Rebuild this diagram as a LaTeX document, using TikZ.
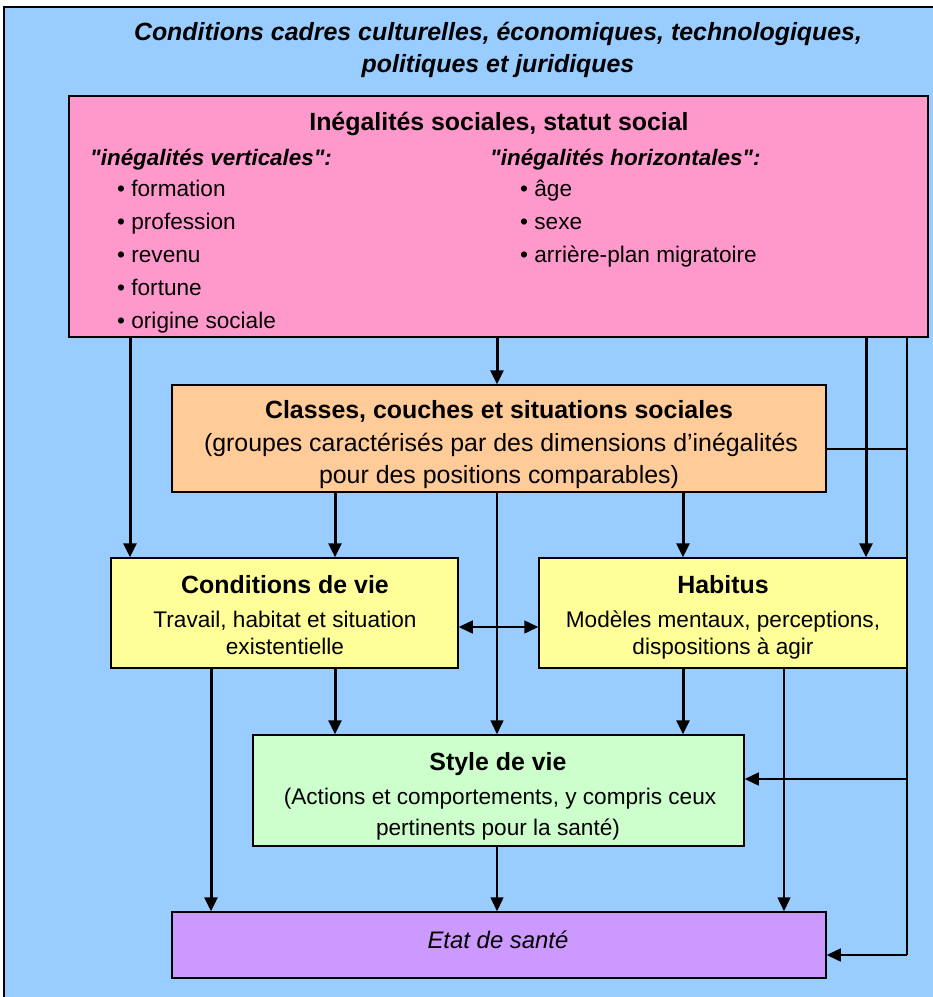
\documentclass[tikz,border=0pt]{standalone}
\usepackage{fontspec}
\setmainfont{Liberation Sans}
\newfontfamily\qfont{Liberation Sans}
\usetikzlibrary{arrows.meta}
\definecolor{bgblue}{HTML}{99CCFF}
\definecolor{boxpink}{HTML}{FF99CC}
\definecolor{boxorange}{HTML}{FFCC99}
\definecolor{boxyellow}{HTML}{FFFF99}
\definecolor{boxgreen}{HTML}{CCFFCC}
\definecolor{boxpurple}{HTML}{CC99FF}
\newcommand{\dq}{{\qfont\bfseries\itshape "}}
\tikzset{
  panel/.style={draw=black, line width=1.5bp, inner sep=0pt},
  txt/.style={inner sep=0pt, anchor=base, font=\fontsize{22.7}{26}\selectfont},
  btxt/.style={inner sep=0pt, anchor=base, font=\fontsize{25}{28}\selectfont\bfseries},
  itxt/.style={inner sep=0pt, anchor=base west, font=\fontsize{22.5}{26}\selectfont\bfseries\itshape},
  thk/.style={line width=3bp, -{Triangle[length=14bp,width=13bp]}},
  thn/.style={line width=1.5bp, -{Triangle[length=14bp,width=13bp]}},
  thnboth/.style={line width=1.5bp, {Triangle[length=14bp,width=13bp]}-{Triangle[length=14bp,width=13bp]}},
  plain/.style={line width=1.5bp}
}
\begin{document}
\begin{tikzpicture}[x=1bp,y=-1bp]
\useasboundingbox (0,0) rectangle (933,997);
\begin{scope}
\clip (0,0) rectangle (933,997);
\draw[fill=bgblue, line width=1.5bp] (4,7) rectangle (950,1010);
\end{scope}

% title
\node[btxt, font=\fontsize{25}{28}\selectfont\bfseries\itshape] (t1) at (498,40) {Conditions cadres culturelles, économiques, technologiques,};
\node[btxt, font=\fontsize{25}{28}\selectfont\bfseries\itshape] (t2) at (498,72) {politiques et juridiques};

% boxes
\node[panel, fill=boxpink, minimum width=859bp, minimum height=241bp] (ineg) at (498.5,216.5) {};
\node[panel, fill=boxorange, minimum width=654bp, minimum height=107bp] (cls) at (499,438.5) {};
\node[panel, fill=boxyellow, minimum width=347bp, minimum height=110bp] (cdv) at (284.5,613) {};
\node[panel, fill=boxyellow, minimum width=368bp, minimum height=110bp] (hab) at (723,613) {};
\node[panel, fill=boxgreen, minimum width=491bp, minimum height=111bp] (sty) at (498.5,790.5) {};
\node[panel, fill=boxpurple, minimum width=654bp, minimum height=66bp] (eta) at (499,945) {};

% pink texts
\node[btxt] (p0) at (499,130) {Inégalités sociales, statut social};
\node[itxt] (pv) at (90,165) {\dq inégalités verticales\dq:};
\node[txt, anchor=base west] (pv1) at (117,196) {• formation};
\node[txt, anchor=base west] (pv2) at (117,229) {• profession};
\node[txt, anchor=base west] (pv3) at (117,262) {• revenu};
\node[txt, anchor=base west] (pv4) at (117,295) {• fortune};
\node[txt, anchor=base west] (pv5) at (117,328) {• origine sociale};
\node[itxt] (ph) at (490,165) {\dq inégalités horizontales\dq:};
\node[txt, anchor=base west] (ph1) at (520,196) {• âge};
\node[txt, anchor=base west] (ph2) at (520,229) {• sexe};
\node[txt, anchor=base west] (ph3) at (520,262) {• arrière-plan migratoire};

% orange texts
\node[btxt] (o0) at (499,418) {Classes, couches et situations sociales};
\node[btxt, font=\fontsize{25}{28}\selectfont] (o1) at (501,451) {(groupes caractérisés par des dimensions d’inégalités};
\node[btxt, font=\fontsize{25}{28}\selectfont] (o2) at (499,483) {pour des positions comparables)};

% yellow left
\node[btxt] (y0) at (285,593) {Conditions de vie};
\node[txt] (y1) at (285,627) {Travail, habitat et situation};
\node[txt] (y2) at (285,654) {existentielle};

% yellow right
\node[btxt] (h0) at (723,593) {Habitus};
\node[txt] (h1) at (723,627) {Modèles mentaux, perceptions,};
\node[txt] (h2) at (723,654) {dispositions à agir};

% green
\node[btxt] (g0) at (498,770) {Style de vie};
\node[txt] (g1) at (500,804) {(Actions et comportements, y compris ceux};
\node[txt] (g2) at (498,835) {pertinents pour la santé)};

% purple
\node[btxt, font=\fontsize{24}{28}\selectfont\itshape] (e0) at (498,948) {Etat de santé};

% x positions
\coordinate (xa) at (130,0);
\coordinate (xb) at (211,0);
\coordinate (xc) at (335,0);
\coordinate (xd) at (497,0);
\coordinate (xe) at (683,0);
\coordinate (xf) at (784,0);
\coordinate (xg) at (866,0);
\coordinate (xh) at (907,0);
\coordinate (ya) at (0,449);
\coordinate (yb) at (0,627);
\coordinate (yc) at (0,779);
\coordinate (yd) at (0,955);

% connectors
\draw[thk] (xa |- ineg.south) -- (xa |- cdv.north);
\draw[thk] (xd |- ineg.south) -- (xd |- cls.north);
\draw[thk] (xg |- ineg.south) -- (xg |- hab.north);
\draw[plain] (xh |- ineg.south) -- (xh |- yd);
\draw[thn] (xh |- yd) -- (eta.east |- yd);
\draw[plain] (cls.east |- ya) -- (xh |- ya);
\draw[thn] (xh |- yc) -- (sty.east |- yc);

\draw[thk] (xc |- cls.south) -- (xc |- cdv.north);
\draw[thk] (xe |- cls.south) -- (xe |- hab.north);
\draw[thn] (xd |- cls.south) -- (xd |- sty.north);
\draw[thnboth] (cdv.east |- yb) -- (hab.west |- yb);

\draw[thk] (xb |- cdv.south) -- (xb |- eta.north);
\draw[thk] (xc |- cdv.south) -- (xc |- sty.north);
\draw[thk] (xe |- hab.south) -- (xe |- sty.north);
\draw[thn] (xf |- hab.south) -- (xf |- eta.north);
\draw[thn] (xd |- sty.south) -- (xd |- eta.north);
\end{tikzpicture}
\end{document}
